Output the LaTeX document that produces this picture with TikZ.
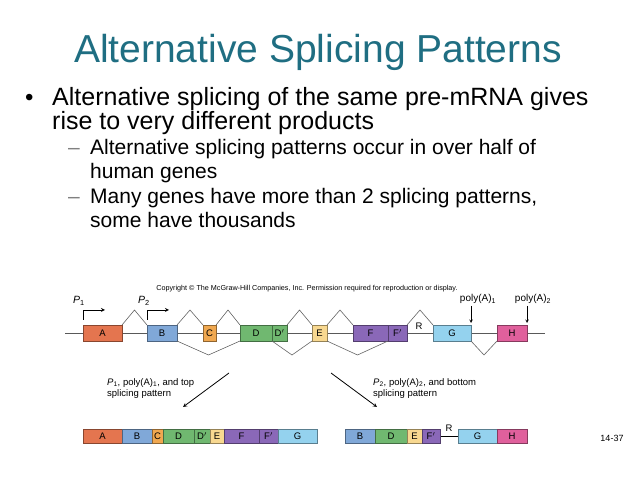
\documentclass[tikz,border=0pt]{standalone}
\usepackage{fontspec}
\setmainfont{Liberation Sans}
\begin{document}
\begin{tikzpicture}[x=1pt,y=-1pt,
  ex/.style={draw=#1!60!black,fill=#1,line width=0.5pt},
  sp/.style={line width=0.6pt,gray!80!black},
  lbl/.style={font=\fontsize{9.5}{10}\selectfont},
  arr/.style={line width=0.8pt,-stealth}]
\definecolor{title}{HTML}{1F6E82}
\definecolor{cA}{HTML}{E4754F}\definecolor{cB}{HTML}{80A8D8}
\definecolor{cC}{HTML}{F0A850}\definecolor{cD}{HTML}{70B870}
\definecolor{cE}{HTML}{F8D890}\definecolor{cF}{HTML}{8A68B8}
\definecolor{cG}{HTML}{94D2EE}\definecolor{cH}{HTML}{E0609C}
\useasboundingbox[fill=white] (0,0) rectangle (638,478);
\node[title,font=\fontsize{39}{44}\selectfont] (t) at (318,52) {Alternative Splicing Patterns};
\begin{scope}[every node/.style={anchor=base west,inner sep=0}]
\node[font=\fontsize{24}{26}\selectfont] (b1) at (25,106) {•};
\node[font=\fontsize{25}{28}\selectfont] (l1) at (52,106) {Alternative splicing of the same pre-mRNA gives};
\node[font=\fontsize{25}{28}\selectfont] (l2) at (52,130) {rise to very different products};
\node[font=\fontsize{21}{24}\selectfont,gray] (d1) at (68,155) {–};
\node[font=\fontsize{21}{24}\selectfont] (l3) at (90,155) {Alternative splicing patterns occur in over half of};
\node[font=\fontsize{21}{24}\selectfont] (l4) at (90,179) {human genes};
\node[font=\fontsize{21}{24}\selectfont,gray] (d2) at (68,204) {–};
\node[font=\fontsize{21}{24}\selectfont] (l5) at (90,204) {Many genes have more than 2 splicing patterns,};
\node[font=\fontsize{21}{24}\selectfont] (l6) at (90,228) {some have thousands};
\end{scope}
\node[font=\fontsize{7.2}{8}\selectfont] (cp) at (307,289) {Copyright © The McGraw-Hill Companies, Inc. Permission required for reproduction or display.};
% gene
\draw[line width=0.7pt,gray!70!black] (65,333) -- (545,333);
\foreach \a/\b/\c/\t in {83/122/cA/A,147/177/cB/B,203/216/cC/C,240/272/cD/D,272/287/cD/D$'$,312/327/cE/E,353/388/cF/F,388/407/cF/F$'$,433/471/cG/G,497/527/cH/H}
  \draw[ex=\c] (\a,325) rectangle node[lbl]{\t} (\b,341);
\node[lbl] (R) at (419,326) {R};
\foreach \a/\b in {122/147,177/203,216/240,287/312,327/353,407/433}
  \draw[sp] (\a,325) -- ({(\a+\b)/2},310) -- (\b,325);
\foreach \a/\b in {177/240,272/312,327/388,471/497}
  \draw[sp] (\a,341) -- ({(\a+\b)/2},355) -- (\b,341);
\draw[line width=0.8pt,-stealth] (83,320) -- (83,310) -- (105,310);
\draw[line width=0.8pt,-stealth] (147,320) -- (147,310) -- (169,310);
\node[font=\fontsize{10.5}{11}\selectfont\itshape] (p1) at (79,301) {P\textsubscript{\upshape 1}};
\node[font=\fontsize{10.5}{11}\selectfont\itshape] (p2) at (144,301) {P\textsubscript{\upshape 2}};
\node[font=\fontsize{10}{11}\selectfont] (pa1) at (478,299) {poly(A)\textsubscript{1}};
\node[font=\fontsize{10}{11}\selectfont] (pa2) at (533,299) {poly(A)\textsubscript{2}};
\draw[line width=0.6pt,-stealth] (471,306) -- (471,323);
\draw[line width=0.6pt,-stealth] (527,306) -- (527,323);
% arrows
\draw[arr] (229,373) -- (183,407);
\draw[arr] (331,373) -- (377,407);
\node[font=\fontsize{9.5}{11}\selectfont,align=left,anchor=north west,inner sep=0] (tl) at (107,378) {\textit{P}\textsubscript{1}, poly(A)\textsubscript{1}, and top\\splicing pattern};
\node[font=\fontsize{9.5}{11}\selectfont,align=left,anchor=north west,inner sep=0] (tr) at (373,378) {\textit{P}\textsubscript{2}, poly(A)\textsubscript{2}, and bottom\\splicing pattern};
% products
\foreach \a/\b/\c/\t in {83/122/cA/A,122/152/cB/B,152/163/cC/C,163/194/cD/D,194/210/cD/D$'$,210/224/cE/E,224/259/cF/F,259/278/cF/F$'$,278/317/cG/G}
  \draw[ex=\c] (\a,429) rectangle node[lbl]{\t} (\b,443);
\draw[line width=0.7pt] (440,436) -- (458,436);
\node[lbl] (R2) at (449,428) {R};
\foreach \a/\b/\c/\t in {345/375/cB/B,375/407/cD/D,407/422/cE/E,422/440/cF/F$'$,458/497/cG/G,497/527/cH/H}
  \draw[ex=\c] (\a,429) rectangle node[lbl]{\t} (\b,443);
\node[font=\fontsize{9}{10}\selectfont] (pg) at (612,438) {14-37};
\end{tikzpicture}
\end{document}
